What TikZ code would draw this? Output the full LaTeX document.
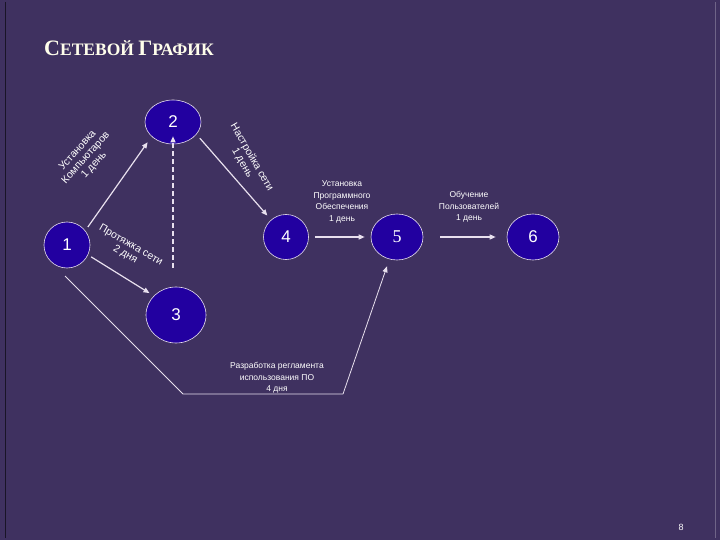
\documentclass[tikz,border=0pt]{standalone}
\usepackage{fontspec}
\setmainfont{Liberation Serif}
\setsansfont{Liberation Sans}
\usetikzlibrary{arrows.meta,shapes.geometric,calc}
\definecolor{bg}{HTML}{3F3160}
\definecolor{nodefill}{HTML}{2200A0}
\definecolor{ln}{HTML}{E8E0EE}
\tikzset{
 ev/.style={ellipse,draw=ln,line width=0.6pt,fill=nodefill,text=white,font=\sffamily\fontsize{17}{17}\selectfont,inner sep=0pt},
 arr/.style={draw=ln,line width=1.2pt,-{Triangle[length=6pt,width=5pt]}},
 lab/.style={text=white,font=\sffamily\fontsize{8.5}{11.5}\selectfont,align=center},
 rlab/.style={text=white,font=\sffamily\fontsize{10.5}{11}\selectfont,align=center,inner sep=1pt},
}
\begin{document}
\begin{tikzpicture}[x=1pt,y=-1pt]
\fill[bg] (0,0) rectangle (720,540);
\useasboundingbox (0,0) rectangle (720,540);
\draw[black!60!bg,line width=0.8pt] (5,2) -- (5,538);
\draw[white!25!bg,line width=0.8pt] (715,2) -- (715,538);
\node[anchor=base west,text=white!92!yellow,font=\bfseries,inner sep=0pt] (title) at (44,56)
 {{\fontsize{22}{22}\selectfont С}{\fontsize{17.5}{18}\selectfont ЕТЕВОЙ }{\fontsize{22}{22}\selectfont Г}{\fontsize{17.5}{18}\selectfont РАФИК}};
\node[ev,minimum width=46pt,minimum height=46pt] (n1) at (67,245) {1};
\node[ev,minimum width=56pt,minimum height=44pt] (n2) at (173,122) {2};
\node[ev,minimum width=60pt,minimum height=56pt] (n3) at (176,315) {3};
\node[ev,minimum width=45pt,minimum height=45pt] (n4) at (286,237) {4};
\node[ev,minimum width=52pt,minimum height=46pt,font=\rmfamily\fontsize{18}{18}\selectfont] (n5) at (397,237) {5};
\node[ev,minimum width=52pt,minimum height=46pt] (n6) at (533,237) {6};
\coordinate (c1) at (65,276);
\coordinate (c2) at (183,394);
\coordinate (c3) at (343,394);
\draw[arr] ($(n1.40)+(3,-3)$) -- ($(n2.220)+(-6,4)$);
\draw[arr] ($(n2.-30)+(4,3)$) -- ($(n4.130)+(-4,-4)$);
\draw[arr] ($(n1.-25)+(3,2)$) -- ($(n3.140)+(-4,-3)$);
\draw[arr,dash pattern=on 5pt off 3pt] ($(n3.north)+(-3,-19)$) -- ($(n2.south)+(0,-8)$);
\draw[arr] ($(n4.east)+(6,0)$) -- ($(n5.west)+(-6,0)$);
\draw[arr] ($(n5.east)+(17,0)$) -- ($(n6.west)+(-11,0)$);
\draw[draw=ln,line width=0.8pt] (c1) -- (c2) -- (c3);
\draw[arr,line width=0.8pt] (c3) -- ($(n5.south)+(-10,6)$);
\node[rlab,rotate=48] (l12) at (86,158) {Установка\\Компьютаров\\1 день};
\node[rlab,rotate=-60] (l24) at (247,160) {Настройка сети\\1 день};
\node[rlab,rotate=-30] (l13) at (128,250) {Протяжка сети\\2 дня};
\node[lab] (l45) at (342,202) {Установка\\Программного\\Обеспечения\\1 день};
\node[lab] (l56) at (469,207) {Обучение\\Пользователей\\1 день};
\node[lab] (l35) at (277,378) {Разработка регламента\\использования ПО\\4 дня};
\node[text=white,font=\sffamily\fontsize{9}{9}\selectfont] (pg) at (681,527) {8};
\end{tikzpicture}
\end{document}
